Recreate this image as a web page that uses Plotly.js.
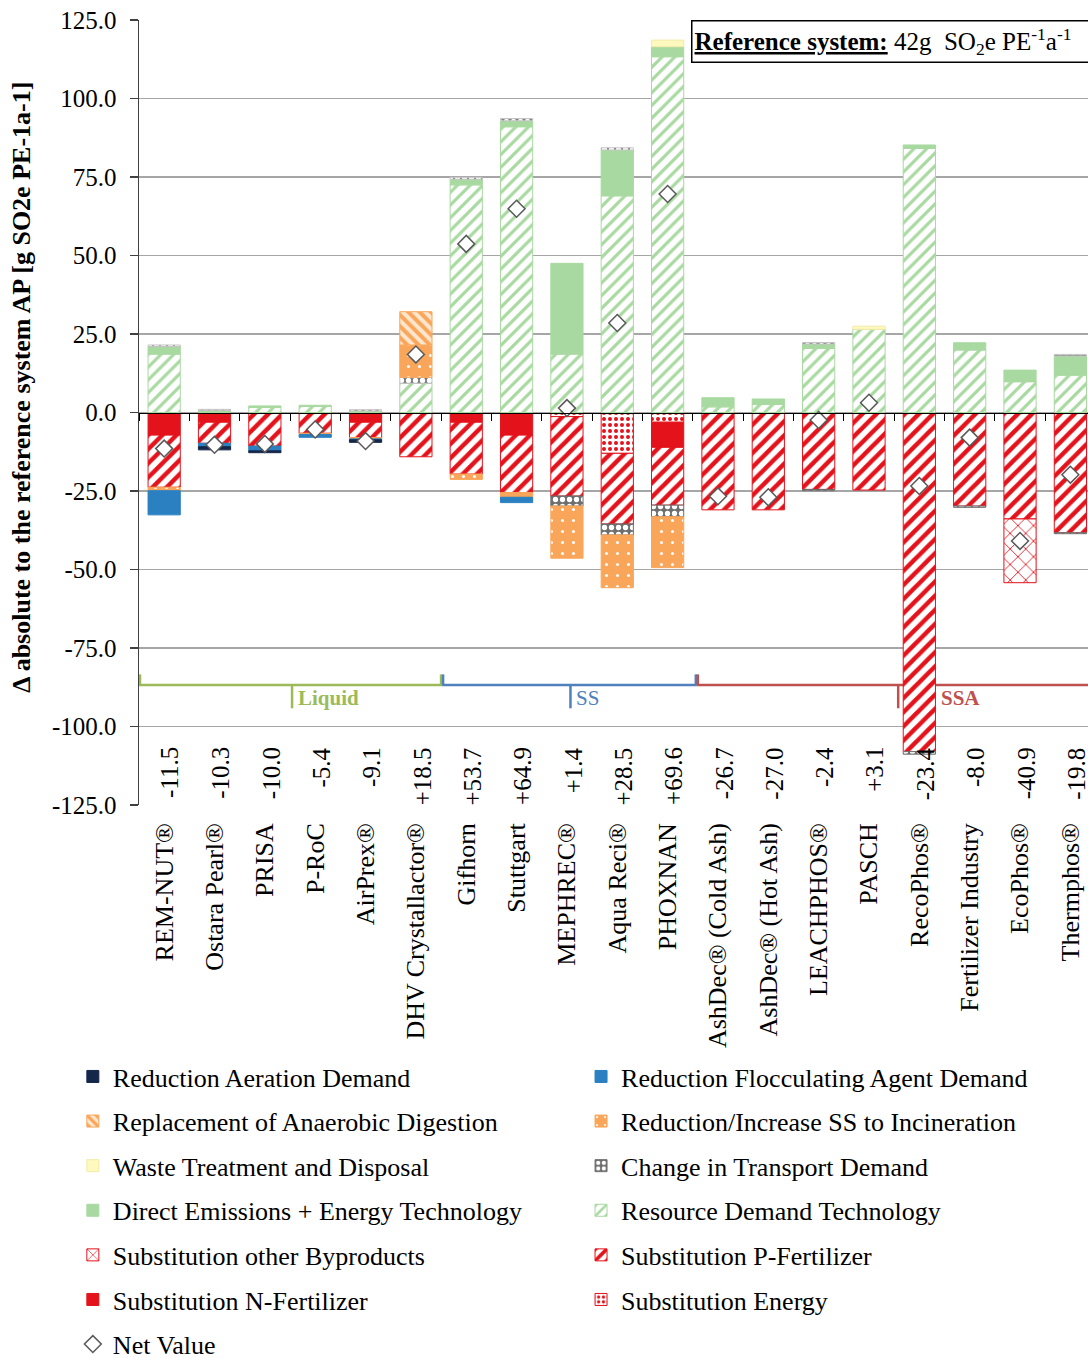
<!DOCTYPE html>
<html>
<head>
<meta charset="utf-8">
<script src="https://cdn.plot.ly/plotly-3.0.1.min.js"></script>
<style>html,body{margin:0;padding:0;background:#fff}#chart{width:1088px;height:1358px}</style>
</head>
<body>
<div id="chart"></div>
<script>
const categories = ["REM-NUT®","Ostara Pearl®","PRISA","P-RoC","AirPrex®","DHV Crystallactor®","Gifhorn","Stuttgart","MEPHREC®","Aqua Reci®","PHOXNAN","AshDec® (Cold Ash)","AshDec® (Hot Ash)","LEACHPHOS®","PASCH","RecoPhos®","Fertilizer Industry","EcoPhos®","Thermphos®"];

// positive contributions
const resourceDemand   = [18.6, 0, 1.6, 1.9, 0, 9.3, 72.5, 91.0, 18.6, 69.0, 113.3, 1.8, 2.6, 20.4, 26.5, 84.1, 19.9, 9.8, 11.9];
const directEmissions  = [2.4, 0.6, 0.5, 0.4, 0.5, 0, 1.8, 1.9, 28.9, 14.6, 3.2, 2.9, 1.7, 1.4, 0, 1.1, 2.3, 3.7, 6.1];
const transportPos     = [0.5, 0.4, 0, 0, 0.4, 1.9, 0.6, 0.7, 0, 0.7, 0, 0, 0, 0.5, 0, 0, 0, 0, 0.5];
const anaerobic        = [0, 0, 0, 0, 0, 10.6, 0, 0, 0, 0, 0, 0, 0, 0, 0, 0, 0, 0, 0];
const wasteTreatment   = [0, 0, 0, 0, 0, 0, 0, 0, 0, 0, 2.1, 0, 0, 0, 1.0, 0, 0, 0, 0];
// mixed / negative contributions
const ssIncineration   = [-1.1, 0, 0, -0.4, -0.4, 10.3, -1.7, -1.5, -16.6, -16.8, -16.2, 0, 0, 0, 0, 0, 0, 0, 0];
const transportNeg     = [0, 0, 0, 0, 0, 0, 0, 0, -3.2, -3.5, -3.7, 0, 0, -0.4, 0, -0.8, -0.4, 0, -0.3];
const substEnergy      = [0, 0, 0, 0, 0, 0, 0, 0, -1.3, -13.0, -3.1, 0, 0, 0, 0, 0, 0, 0, 0];
const substNFert       = [-7.2, -3.1, 0, 0, -3.1, 0, -3.1, -7.2, 0, 0, -8.0, 0, 0, 0, 0, 0, 0, 0, 0];
const substPFert       = [-16.6, -6.7, -10.7, -6.6, -4.9, -14.1, -16.5, -18.3, -25.3, -22.5, -18.4, -31.0, -31.0, -24.5, -24.7, -108.0, -29.8, -33.9, -38.3];
const substOther       = [0, 0, 0, 0, 0, 0, 0, 0, 0, 0, 0, 0, 0, 0, 0, 0, 0, -20.3, 0];
const flocculant       = [-7.7, -1.1, -1.5, -0.9, -0.3, 0, 0, -1.7, 0, 0, 0, 0, 0, 0, 0, 0, 0, 0, 0];
const aeration         = [0, -1.0, -0.6, 0, -0.8, 0, 0, 0, 0, 0, 0, 0, 0, 0, 0, 0, 0, 0, 0];
const netValue         = [-11.5, -10.3, -10.0, -5.4, -9.1, 18.5, 53.7, 64.9, 1.4, 28.5, 69.6, -26.7, -27.0, -2.4, 3.1, -23.4, -8.0, -40.9, -19.8];

const yTickVals = [125, 100, 75, 50, 25, 0, -25, -50, -75, -100, -125];
const yTickText = ["125.0","100.0","75.0","50.0","25.0","0.0","-25.0","-50.0","-75.0","-100.0","-125.0"];

const groups = [
  {name:"Liquid", color:"#9BBB59", start:-0.5, end:5.52, mid:2.54, label:2.62, bold:true},
  {name:"SS",     color:"#4F81BD", start:5.52, end:10.58, mid:8.07, label:8.15, bold:false},
  {name:"SSA",    color:"#C0504D", start:10.58, end:18.6, mid:14.58, label:15.4, bold:true}
];

const GREEN = "#A8D9A0", RED = "#E3121B", ORANGE = "#F9A65A";

function bar(name, y, opts) {
  return Object.assign({
    type:'bar', name:name, x:categories, y:y.map(v => v === 0 ? null : v), hoverinfo:'skip',
    legendgroup:name, marker:{color:opts.color, line:{color:opts.line || opts.color, width:1}, pattern:opts.pattern || {shape:''}}
  }, opts.extra || {});
}

const traces = [
  bar("Substitution Energy", substEnergy, {color:"#FBE3E3", line:RED, pattern:{shape:'.', fgcolor:RED, bgcolor:'#FFFFFF', size:6, solidity:0.35}, extra:{legend:'legend2', legendrank:6}}),
  bar("Substitution N-Fertilizer", substNFert, {color:RED, extra:{legend:'legend', legendrank:6}}),
  bar("Substitution P-Fertilizer", substPFert, {color:'#FFFFFF', line:RED, pattern:{shape:'/', fgcolor:RED, bgcolor:'#FFFFFF', size:10, solidity:0.45}, extra:{legend:'legend2', legendrank:5}}),
  bar("Substitution other Byproducts", substOther, {color:'#FFFFFF', line:RED, pattern:{shape:'x', fgcolor:RED, bgcolor:'#FFFFFF', size:11, solidity:0.15}, extra:{legend:'legend', legendrank:5}}),
  bar("Resource Demand Technology", resourceDemand, {color:'#FFFFFF', line:GREEN, pattern:{shape:'/', fgcolor:GREEN, bgcolor:'#FFFFFF', size:9, solidity:0.35}, extra:{legend:'legend2', legendrank:4}}),
  bar("Direct Emissions + Energy Technology", directEmissions, {color:GREEN, extra:{legend:'legend', legendrank:4}}),
  bar("Change in Transport Demand", transportNeg, {color:'#6E6E6E', pattern:{shape:'.', fgcolor:'#FFFFFF', bgcolor:'#6E6E6E', size:7, solidity:0.45}, extra:{legend:'legend2', legendrank:3}}),
  bar("Change in Transport Demand", transportPos, {color:'#C4C4C4', line:'#C4C4C4', pattern:{shape:'.', fgcolor:'#FFFFFF', bgcolor:'#7A7A7A', size:7, solidity:0.45}, extra:{legend:'legend2', legendrank:3, showlegend:false}}),
  bar("Reduction/Increase SS to Incineration", ssIncineration, {color:ORANGE, pattern:{shape:'.', fgcolor:'#FFFFFF', bgcolor:ORANGE, size:11, solidity:0.06}, extra:{legend:'legend2', legendrank:2}}),
  bar("Replacement of Anaerobic Digestion", anaerobic, {color:'#FFFFFF', line:ORANGE, pattern:{shape:'\\', fgcolor:ORANGE, bgcolor:'#FDE7CF', size:8, solidity:0.5}, extra:{legend:'legend', legendrank:2}}),
  bar("Waste Treatment and Disposal", wasteTreatment, {color:'#FFF8BF', line:'#F3EBA8', extra:{legend:'legend', legendrank:3}}),
  bar("Reduction Flocculating Agent Demand", flocculant, {color:'#2A80C0', extra:{legend:'legend2', legendrank:1}}),
  bar("Reduction Aeration Demand", aeration, {color:'#14274A', extra:{legend:'legend', legendrank:1}}),
  {type:'scatter', mode:'markers', name:'Net Value', x:categories, y:netValue, hoverinfo:'skip',
   legend:'legend', legendrank:7, legendgroup:'net',
   marker:{symbol:'diamond', size:13, color:'#FFFFFF', line:{color:'#595959', width:1.5}}},
  {type:'scatter', x:[], y:[], xaxis:'x2', showlegend:false, hoverinfo:'skip'}
];

const annotations = categories.map((c, i) => ({
  x:c, y:-106, xref:'x', yref:'y', xanchor:'center', yanchor:'top', xshift:6,
  text:(netValue[i] > 0 ? '+' : '') + netValue[i].toFixed(1),
  textangle:-90, showarrow:false, font:{size:25, color:'#000'}
}));
groups.forEach(g => annotations.push({
  x:g.label, y:-90.8, xref:'x', yref:'y', xanchor:'left', yanchor:'middle', showarrow:false,
  text:g.bold ? '<b>' + g.name + '</b>' : g.name, font:{size:21, color:g.color}
}));
annotations.push({
  xref:'paper', yref:'paper', x:0.575, y:1, xanchor:'left', yanchor:'top', showarrow:false,
  text:'<b><u>Reference system:</u></b> 42g&nbsp; SO<sub>2</sub>e PE<sup>-1</sup>a<sup>-1</sup>&nbsp;&nbsp;&nbsp;&nbsp;&nbsp;&nbsp;&nbsp;&nbsp;&nbsp;&nbsp;',
  font:{size:25, color:'#000'}, bgcolor:'#FFFFFF', bordercolor:'#000', borderwidth:1.5, borderpad:2, align:'left', xshift:6
});
annotations.push({
  xref:'paper', yref:'paper', x:-0.124, y:0.532, xanchor:'center', yanchor:'middle', showarrow:false, textangle:-90,
  text:'<b>Δ absolute to the reference system AP [g SO2e PE-1a-1]</b>', font:{size:26, color:'#000'}
});

const shapes = [];
groups.forEach(g => {
  const ln = {color:g.color, width:2.5};
  shapes.push({type:'line', xref:'x', yref:'y', x0:g.start, x1:g.end, y0:-86.8, y1:-86.8, line:ln, layer:'below'});
  shapes.push({type:'line', xref:'x', yref:'y', x0:g.start + 0.02, x1:g.start + 0.02, y0:-86.8, y1:-83.4, line:ln, layer:'below'});
  if (g.end < 18.4) shapes.push({type:'line', xref:'x', yref:'y', x0:g.end - 0.02, x1:g.end - 0.02, y0:-86.8, y1:-83.4, line:ln, layer:'below'});
  shapes.push({type:'line', xref:'x', yref:'y', x0:g.mid, x1:g.mid, y0:-86.8, y1:-94.2, line:ln, layer:'below'});
});

const boundaries = categories.map((c, i) => i - 0.5);

const layout = {
  width:1088, height:1358,
  margin:{l:139, r:0, t:20, b:553, pad:0, autoexpand:false},
  paper_bgcolor:'#FFFFFF', plot_bgcolor:'#FFFFFF',
  barmode:'relative', bargap:0.36,
  font:{family:'"Liberation Serif", "Times New Roman", serif', size:25, color:'#000'},
  showlegend:true,
  xaxis:{type:'category', range:[-0.5, 18.35], tickangle:-90, showline:false, ticks:'', ticklabelstandoff:12,
         tickfont:{size:26, color:'#000'}, showgrid:false, zeroline:false, automargin:false, fixedrange:true},
  xaxis2:{overlaying:'x', anchor:'free', position:0.5, side:'bottom', type:'linear', range:[-0.5, 18.35],
          showline:true, linecolor:'#000', linewidth:1.5, ticks:'outside', ticklen:7, tickcolor:'#000', tickwidth:1,
          tickmode:'array', tickvals:boundaries, showticklabels:false, showgrid:false, zeroline:false, fixedrange:true},
  yaxis:{range:[-125, 125], tickmode:'array', tickvals:yTickVals, ticktext:yTickText,
         showline:true, linecolor:'#404040', linewidth:1.5, ticks:'outside', ticklen:8, tickcolor:'#404040', tickwidth:1.5,
         gridcolor:'#A6A6A6', gridwidth:1.5, zeroline:false, tickfont:{size:25, color:'#000'}, ticklabelstandoff:8,
         automargin:false, fixedrange:true},
  legend:{x:-0.0697, y:-0.3160, xanchor:'left', yanchor:'top', orientation:'v', tracegroupgap:7.8, traceorder:'grouped',
          font:{size:26, color:'#000'}, bgcolor:'rgba(0,0,0,0)', itemwidth:30},
  legend2:{x:0.4658, y:-0.3160, xanchor:'left', yanchor:'top', orientation:'v', tracegroupgap:7.8, traceorder:'grouped',
           font:{size:26, color:'#000'}, bgcolor:'rgba(0,0,0,0)', itemwidth:30},
  annotations:annotations,
  shapes:shapes
};

Plotly.newPlot('chart', traces, layout, {displayModeBar:false, staticPlot:true});
</script>
</body>
</html>
